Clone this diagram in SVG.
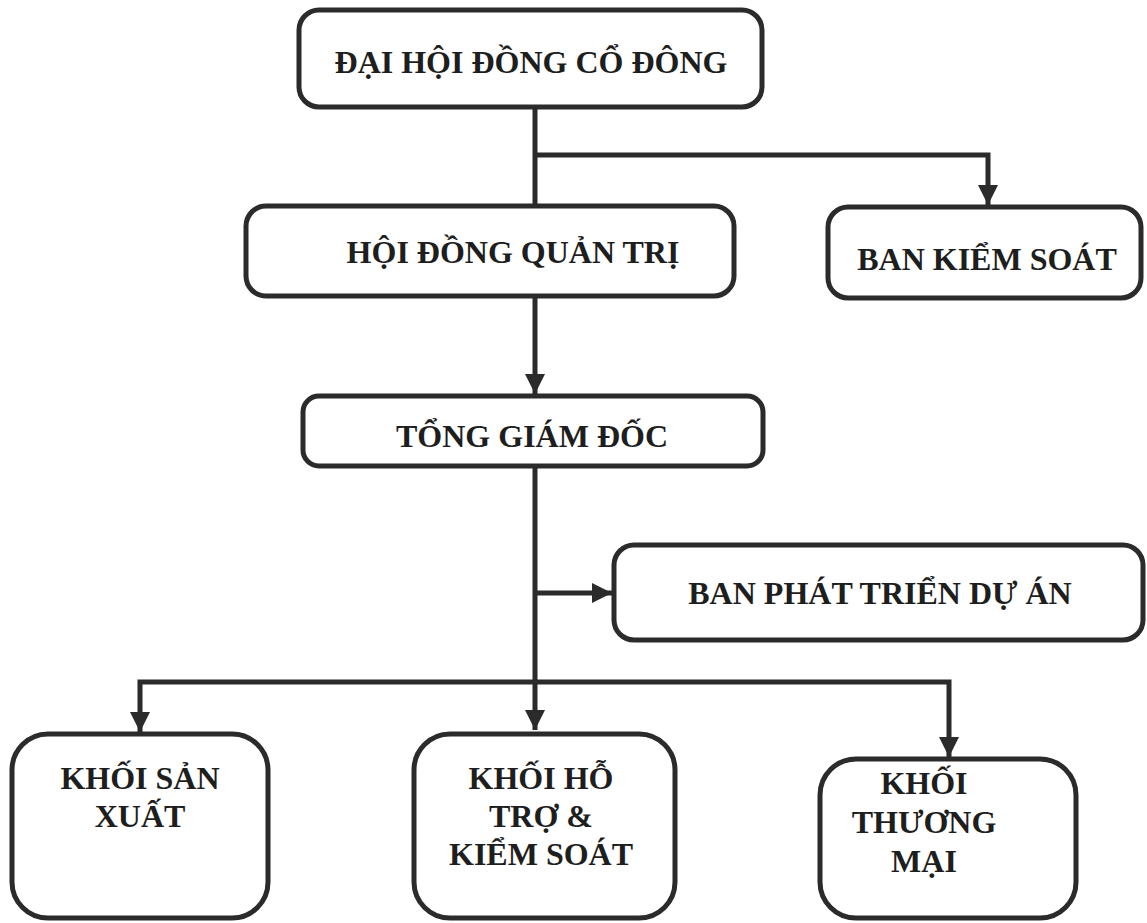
<svg xmlns="http://www.w3.org/2000/svg" width="1147" height="923" viewBox="0 0 1147 923">
<style>
.box{fill:#fff;stroke:#2b2b2b;stroke-width:5}
.t{font-family:"Liberation Serif","Times New Roman",serif;font-weight:bold;font-size:32px;fill:#1e1e1e;text-anchor:middle}
.c{fill:none;stroke:#2b2b2b;stroke-width:5}
</style>
<defs>
<marker id="ah" viewBox="0 0 10 10" refX="10" refY="5" markerWidth="4" markerHeight="4" markerUnits="strokeWidth" orient="auto">
<path d="M0,0 L10,5 L0,10 Z" fill="#2b2b2b"/>
</marker>
</defs>
<rect width="1147" height="923" fill="#fff"/>
<g id="connectors">
<path class="c" d="M535,107 V206"/>
<path class="c" d="M535,155 H988 V205" marker-end="url(#ah)"/>
<path class="c" d="M535,296 V394" marker-end="url(#ah)"/>
<path class="c" d="M535,466 V730" marker-end="url(#ah)"/>
<path class="c" d="M535,593 H612" marker-end="url(#ah)"/>
<path class="c" d="M535,682 H140 V732" marker-end="url(#ah)"/>
<path class="c" d="M535,682 H949 V757" marker-end="url(#ah)"/>
</g>
<g id="n-dhdcd">
<rect class="box" x="299" y="10" width="463" height="97" rx="20"/>
<text class="t" x="531" y="73">ĐẠI HỘI ĐỒNG CỔ ĐÔNG</text>
</g>
<g id="n-hdqt">
<rect class="box" x="246" y="206" width="488" height="90" rx="20"/>
<text class="t" x="513" y="263">HỘI ĐỒNG QUẢN TRỊ</text>
</g>
<g id="n-bks">
<rect class="box" x="828" y="207" width="313" height="91" rx="20"/>
<text class="t" x="987" y="270">BAN KIỂM SOÁT</text>
</g>
<g id="n-tgd">
<rect class="box" x="303" y="396" width="460" height="70" rx="16"/>
<text class="t" x="532" y="447">TỔNG GIÁM ĐỐC</text>
</g>
<g id="n-bptda">
<rect class="box" x="614" y="545" width="529" height="95" rx="20"/>
<text class="t" x="880" y="604">BAN PHÁT TRIỂN DỰ ÁN</text>
</g>
<g id="n-ksx">
<rect class="box" x="12" y="734" width="256" height="184" rx="36"/>
<text class="t" x="140" y="789">KHỐI SẢN</text>
<text class="t" x="140" y="827">XUẤT</text>
</g>
<g id="n-kht">
<rect class="box" x="414" y="734" width="261" height="184" rx="36"/>
<text class="t" x="541" y="789">KHỐI HỖ</text>
<text class="t" x="541" y="827">TRỢ &amp;</text>
<text class="t" x="541" y="865">KIỂM SOÁT</text>
</g>
<g id="n-ktm">
<rect class="box" x="820" y="759" width="256" height="159" rx="36"/>
<text class="t" x="924" y="794">KHỐI</text>
<text class="t" x="924" y="833">THƯƠNG</text>
<text class="t" x="924" y="872">MẠI</text>
</g>
</svg>
